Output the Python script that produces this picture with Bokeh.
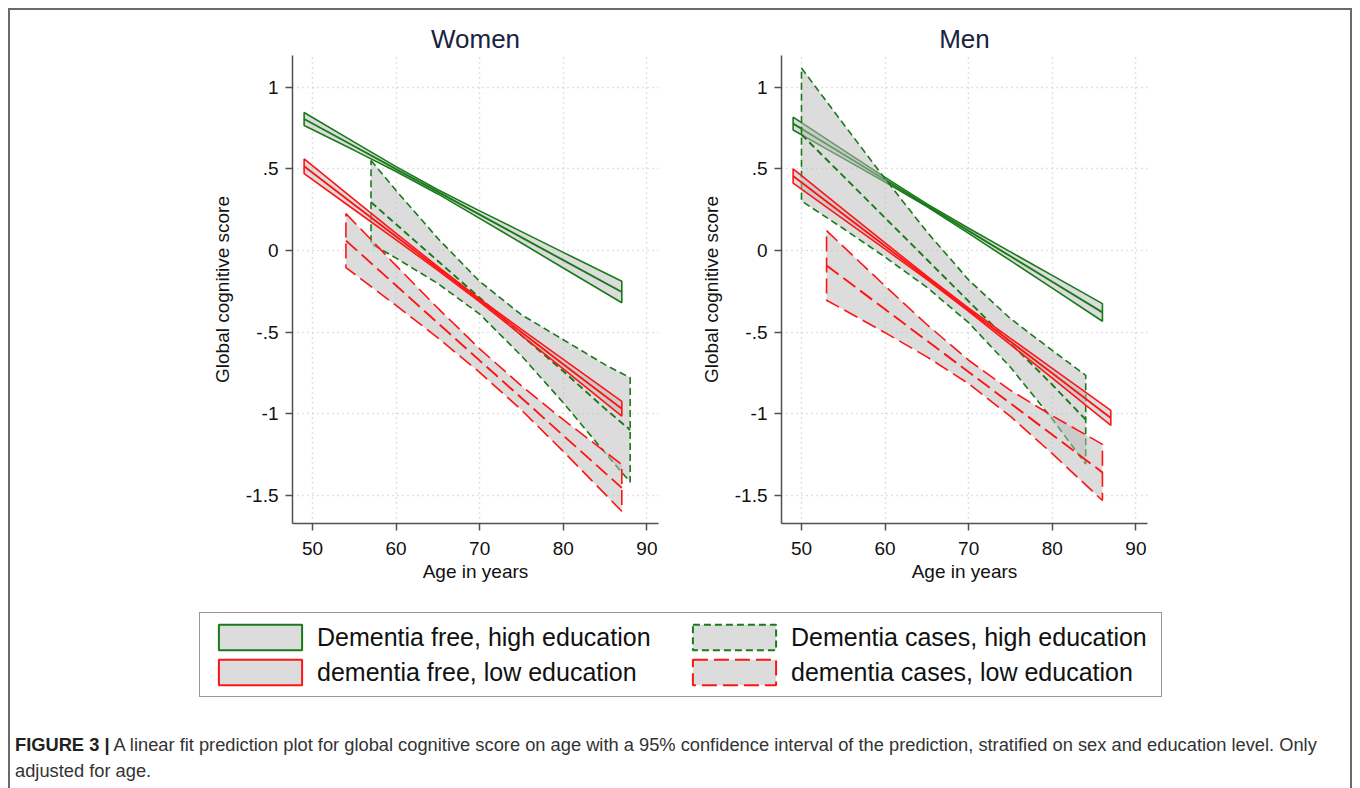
from bokeh.plotting import figure
from bokeh.models import ColumnDataSource, FixedTicker, Legend, LegendItem, Div, Spacer, Range1d
from bokeh.layouts import column, row
from bokeh.embed import file_html
from bokeh.resources import INLINE

# ---------------- data ----------------
panel_titles = ["Women", "Men"]
series_labels = ["Dementia free, high education", "Dementia cases, high education",
                 "dementia free, low education", "dementia cases, low education"]
x_ticks = [50, 60, 70, 80, 90]
y_ticks = [1, 0.5, 0, -0.5, -1, -1.5]
y_tick_labels = ["1", ".5", "0", "-.5", "-1", "-1.5"]

# Women
w_free_high_age = [49, 55, 60, 65, 70, 75, 80, 87]
w_free_high_fit = [0.805, 0.638, 0.498, 0.359, 0.219, 0.080, -0.060, -0.255]
w_free_high_lo = [0.765, 0.613, 0.483, 0.346, 0.196, 0.045, -0.108, -0.321]
w_free_high_hi = [0.845, 0.663, 0.513, 0.372, 0.242, 0.115, -0.012, -0.189]

w_cases_high_age = [57, 60, 65, 70, 75, 80, 85, 88]
w_cases_high_fit = [0.296, 0.160, -0.065, -0.290, -0.520, -0.740, -0.970, -1.100]
w_cases_high_lo = [0.041, -0.047, -0.203, -0.390, -0.646, -0.933, -1.240, -1.420]
w_cases_high_hi = [0.551, 0.367, 0.073, -0.190, -0.394, -0.547, -0.700, -0.780]

w_free_low_age = [49, 55, 60, 65, 70, 75, 80, 87]
w_free_low_fit = [0.515, 0.280, 0.085, -0.111, -0.306, -0.502, -0.697, -0.970]
w_free_low_lo = [0.470, 0.249, 0.065, -0.122, -0.315, -0.520, -0.726, -1.015]
w_free_low_hi = [0.560, 0.311, 0.105, -0.100, -0.297, -0.484, -0.668, -0.925]

w_cases_low_age = [54, 60, 65, 70, 75, 80, 87]
w_cases_low_fit = [0.060, -0.215, -0.445, -0.675, -0.904, -1.134, -1.455]
w_cases_low_lo = [-0.105, -0.337, -0.536, -0.747, -0.978, -1.231, -1.598]
w_cases_low_hi = [0.225, -0.093, -0.354, -0.603, -0.830, -1.037, -1.312]

# Men
m_free_high_age = [49, 55, 60, 65, 70, 75, 80, 86]
m_free_high_fit = [0.777, 0.589, 0.433, 0.277, 0.120, -0.036, -0.192, -0.380]
m_free_high_lo = [0.738, 0.564, 0.419, 0.269, 0.104, -0.063, -0.231, -0.434]
m_free_high_hi = [0.816, 0.614, 0.447, 0.285, 0.136, -0.009, -0.153, -0.326]

m_cases_high_age = [50, 55, 60, 65, 70, 75, 80, 84]
m_cases_high_fit = [0.710, 0.455, 0.199, -0.056, -0.312, -0.567, -0.823, -1.037]
m_cases_high_lo = [0.303, 0.134, -0.041, -0.226, -0.443, -0.716, -1.033, -1.309]
m_cases_high_hi = [1.117, 0.776, 0.439, 0.114, -0.181, -0.418, -0.613, -0.765]

m_free_low_age = [49, 55, 60, 65, 70, 75, 80, 87]
m_free_low_fit = [0.456, 0.222, 0.027, -0.168, -0.363, -0.558, -0.753, -1.026]
m_free_low_lo = [0.412, 0.192, 0.008, -0.178, -0.373, -0.577, -0.783, -1.072]
m_free_low_hi = [0.500, 0.252, 0.046, -0.158, -0.353, -0.539, -0.723, -0.980]

m_cases_low_age = [53, 60, 65, 70, 75, 80, 86]
m_cases_low_fit = [-0.092, -0.361, -0.553, -0.745, -0.937, -1.129, -1.360]
m_cases_low_lo = [-0.305, -0.504, -0.652, -0.817, -1.017, -1.245, -1.532]
m_cases_low_hi = [0.121, -0.218, -0.454, -0.673, -0.857, -1.013, -1.188]

caption_bold = "FIGURE 3 |"
caption_line1 = ("A linear fit prediction plot for global cognitive score on age with a 95% confidence "
                 "interval of the prediction, stratified on sex and education level. Only")
caption_line2 = "adjusted for age."

# ---------------- styles ----------------
FONT = "Liberation Sans"
GREEN = "#187a18"
RED = "#ff1414"
FILL = "#bababa"
FILL_ALPHA = 0.5
DASHES = ["solid", "7 4", "solid", "15 6"]
COLORS = [GREEN, GREEN, RED, RED]

women = [
    (w_free_high_age, w_free_high_fit, w_free_high_lo, w_free_high_hi),
    (w_cases_high_age, w_cases_high_fit, w_cases_high_lo, w_cases_high_hi),
    (w_free_low_age, w_free_low_fit, w_free_low_lo, w_free_low_hi),
    (w_cases_low_age, w_cases_low_fit, w_cases_low_lo, w_cases_low_hi),
]
men = [
    (m_free_high_age, m_free_high_fit, m_free_high_lo, m_free_high_hi),
    (m_cases_high_age, m_cases_high_fit, m_cases_high_lo, m_cases_high_hi),
    (m_free_low_age, m_free_low_fit, m_free_low_lo, m_free_low_hi),
    (m_cases_low_age, m_cases_low_fit, m_cases_low_lo, m_cases_low_hi),
]


def band_source(age, lo, hi):
    return ColumnDataSource(dict(x=list(age) + list(age)[::-1], y=list(hi) + list(lo)[::-1]))


def make_panel(title, series):
    p = figure(width=482, height=590, output_backend="svg", toolbar_location=None,
               x_range=Range1d(47.61, 91.39), y_range=Range1d(-1.673, 1.194),
               min_border_left=96, min_border_right=20, min_border_top=45, min_border_bottom=77,
               title=title)
    p.title.text_font = FONT
    p.title.text_font_size = "26px"
    p.title.text_font_style = "normal"
    p.title.text_color = "#1a2340"
    p.title.align = "center"
    p.title.standoff = 4
    p.outline_line_color = None
    p.background_fill_color = "white"
    p.border_fill_color = "white"

    for i, (age, fit, lo, hi) in enumerate(series):
        p.patch("x", "y", source=band_source(age, lo, hi), fill_color=FILL, fill_alpha=FILL_ALPHA,
                line_color=COLORS[i], line_width=1.6, line_dash=DASHES[i])
        p.line(age, fit, line_color=COLORS[i], line_width=1.9, line_dash=DASHES[i])

    p.xaxis.ticker = FixedTicker(ticks=x_ticks)
    p.yaxis.ticker = FixedTicker(ticks=y_ticks)
    p.yaxis.major_label_overrides = dict(zip(y_ticks, y_tick_labels))
    p.xaxis.axis_label = "Age in years"
    p.yaxis.axis_label = "Global cognitive score"
    for ax in (p.xaxis, p.yaxis):
        ax.axis_line_color = "#505050"
        ax.axis_line_width = 1.5
        ax.major_tick_line_color = "#505050"
        ax.major_tick_line_width = 1.5
        ax.major_tick_out = 7
        ax.major_tick_in = 0
        ax.minor_tick_line_color = None
        ax.major_label_text_font = FONT
        ax.major_label_text_font_size = "19px"
        ax.major_label_text_color = "#111111"
        ax.axis_label_text_font = FONT
        ax.axis_label_text_font_size = "19px"
        ax.axis_label_text_font_style = "normal"
        ax.axis_label_text_color = "#111111"
    p.xaxis.major_label_standoff = 11
    p.xaxis.axis_label_standoff = 3
    p.yaxis.major_label_standoff = 7
    p.yaxis.axis_label_standoff = 10
    for g in (p.xgrid, p.ygrid):
        g.grid_line_color = "#c4c4c4"
        g.grid_line_dash = "1 4"
        g.grid_line_width = 1.5
    return p


p_w = make_panel(panel_titles[0], women)
p_m = make_panel(panel_titles[1], men)

# legend figure: swatch renderers reuse the women bands, kept outside this figure's visible range
leg = figure(width=1340, height=110, output_backend="svg", toolbar_location=None,
             x_range=Range1d(0, 1), y_range=Range1d(0, 1),
             min_border_left=0, min_border_right=0, min_border_top=0, min_border_bottom=0)
leg.axis.visible = False
leg.grid.visible = False
leg.outline_line_color = None
items = []
for i, (age, fit, lo, hi) in enumerate(women):
    r = leg.patch("x", "y", source=band_source(age, lo, hi), fill_color=FILL, fill_alpha=FILL_ALPHA,
                  line_color=COLORS[i], line_width=2, line_dash=DASHES[i])
    items.append(LegendItem(label=series_labels[i], renderers=[r]))
legend = Legend(items=items, location=(189, 13), orientation="horizontal", ncols=2,
                glyph_width=104, glyph_height=32, label_standoff=5, spacing=3, padding=8,
                label_width=362, margin=0, border_line_color="#333333", border_line_width=1.5,
                background_fill_color="white", label_text_font=FONT,
                label_text_font_size="25px", label_text_color="#111111")
leg.add_layout(legend, "center")

caption = Div(text=f"<b style='color:#222'>{caption_bold}</b> {caption_line1}<br>{caption_line2}",
              width=1336, height=70,
              styles={"font-family": FONT, "font-size": "18.3px", "color": "#333333",
                      "line-height": "26px", "padding-top": "17px", "padding-left": "0px",
                      "overflow": "hidden", "white-space": "nowrap"})

layout = column(
    row(Spacer(width=186, height=590), p_w, Spacer(width=7, height=590), p_m),
    leg,
    caption,
    styles={"border-top": "2px solid #6a6a6a", "border-left": "2px solid #6a6a6a",
            "border-right": "2px solid #6a6a6a", "width": "1344px", "box-sizing": "border-box",
            "margin-left": "8px", "margin-top": "8px"},
)

open("out.html", "w").write(file_html(layout, INLINE))
